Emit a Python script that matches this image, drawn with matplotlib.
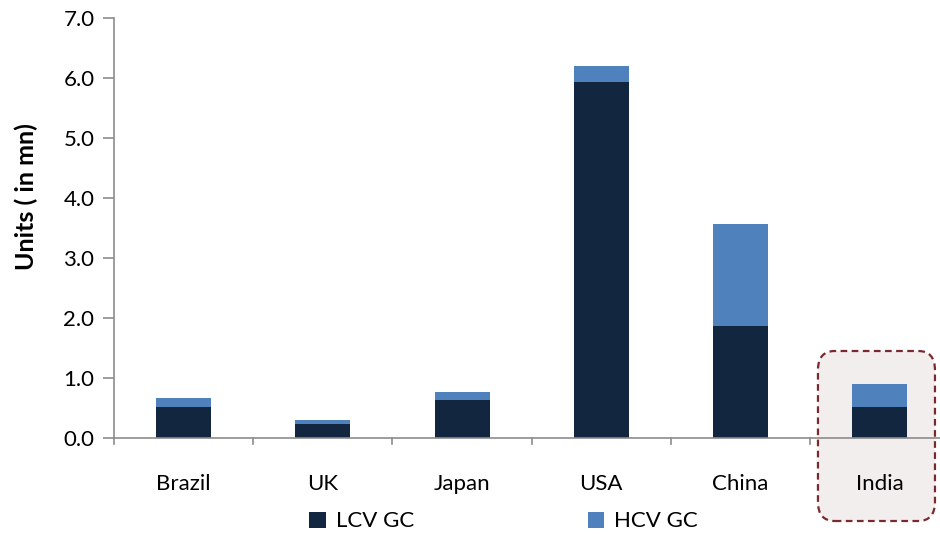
import matplotlib
matplotlib.use("Agg")
import matplotlib.pyplot as plt
from matplotlib.patches import FancyBboxPatch
from matplotlib.transforms import blended_transform_factory
import numpy as np

plt.rcParams['font.family'] = ['Lato', 'DejaVu Sans']

categories = ["Brazil", "UK", "Japan", "USA", "China", "India"]
lcv = [0.52, 0.23, 0.64, 5.93, 1.86, 0.52]
hcv = [0.14, 0.07, 0.13, 0.27, 1.70, 0.38]
yticks = [0.0, 1.0, 2.0, 3.0, 4.0, 5.0, 6.0, 7.0]
highlight = "India"

W, H = 940, 534
fig = plt.figure(figsize=(W / 100, H / 100), dpi=100)
x0, x1 = 113.85, 949.6
ytop, ybot = 18, 438
ax = fig.add_axes([x0 / W, 1 - ybot / H, (x1 - x0) / W, (ybot - ytop) / H])

dark = "#13263F"
light = "#4F81BD"
spine_c = "#8C8C8C"
fs = 16

x = np.arange(len(categories))

# highlight box behind India
hi = categories.index(highlight)
trans = blended_transform_factory(ax.transData, fig.transFigure)
box = FancyBboxPatch((hi - 0.445, 1 - 521 / H), 0.84, (521 - 351) / H,
                     boxstyle="round,pad=0,rounding_size=0.12",
                     transform=trans, facecolor="#F3EEEE", edgecolor="#7A2A2E",
                     linestyle=(0, (3, 2)), linewidth=1.6, zorder=0,
                     clip_on=False, mutation_aspect=0.3)
fig.add_artist(box)

bw = 0.395
ax.bar(x, lcv, bw, color=dark, label="LCV GC", zorder=2)
ax.bar(x, hcv, bw, bottom=lcv, color=light, label="HCV GC", zorder=2)

ax.set_xlim(-0.5, len(categories) - 0.5)
ax.set_ylim(0, 7.0)
ax.set_yticks(yticks)
ax.set_yticklabels([f"{v:.1f}" for v in yticks], fontsize=fs)
ax.set_xticks(x)
ax.set_xticklabels(categories, fontsize=fs)
ax.tick_params(axis='x', length=0, pad=26)
ax.tick_params(axis='y', length=8, width=1.2, color=spine_c, pad=6)
# category separator ticks
for b in np.arange(-0.5, len(categories), 1.0):
    ax.plot([b, b], [0, -0.1], color=spine_c, lw=1.2, clip_on=False, zorder=3)

for s in ['top', 'right']:
    ax.spines[s].set_visible(False)
for s in ['left', 'bottom']:
    ax.spines[s].set_color(spine_c)
    ax.spines[s].set_linewidth(1.2)
ax.patch.set_alpha(0)

ax.set_ylabel("Units ( in mn)", fontsize=18, fontweight='bold')
ax.yaxis.set_label_coords(-0.091, 0.574)

ax.legend(loc='lower left', bbox_to_anchor=(0.21, -0.27), ncol=2, frameon=False,
          fontsize=fs, handlelength=0.75, handleheight=0.75, columnspacing=7.8,
          handletextpad=0.45)

fig.savefig("out.png", dpi=100)
